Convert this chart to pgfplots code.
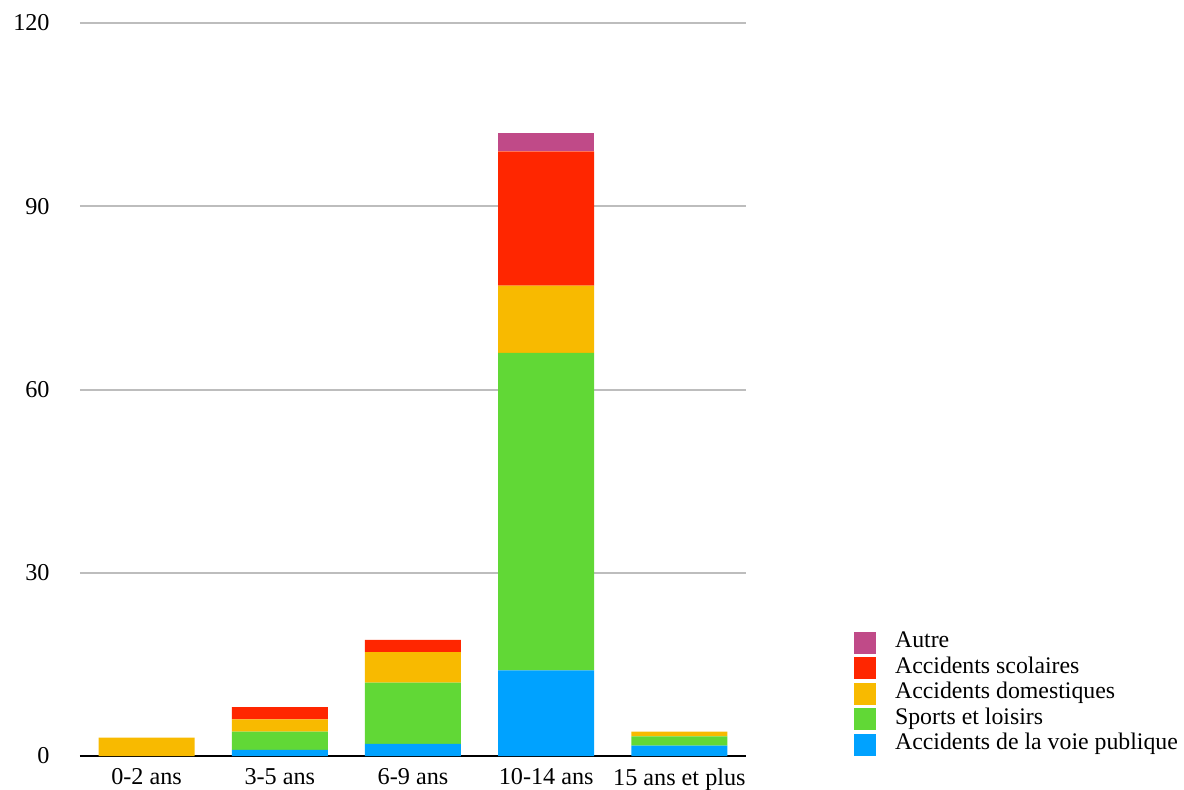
\documentclass[border=0pt]{standalone}
\usepackage{pgfplots}
\usepackage{pgfplotstable}
\pgfplotsset{compat=1.18}
\usepackage{fontspec}
\setmainfont{Liberation Serif}
\definecolor{cblue}{HTML}{00A2FF}
\definecolor{cgreen}{HTML}{61D836}
\definecolor{cyellow}{HTML}{F8BA00}
\definecolor{cred}{HTML}{FF2600}
\definecolor{cpink}{HTML}{C04A88}
\pgfplotstableread{
x voie sports dom scol autre
0 0 0 3 0 0
1 1 3 2 2 0
2 2 10 5 2 0
3 14 52 11 22 3
4 1.7 1.5 0.8 0 0
}\data
\begin{document}
\fontsize{11.9}{14.3}\selectfont
\begin{tikzpicture}
\useasboundingbox (0,0) rectangle (592pt,394.5pt);
\begin{axis}[
  at={(40pt,16.5pt)}, anchor=south west,
  scale only axis, width=333pt, height=366.5pt,
  ybar stacked, bar width=48pt,
  xmin=-0.5, xmax=4.5, ymin=0, ymax=120,
  xtick={0,1,2,3,4},
  xticklabels={0-2 ans,3-5 ans,6-9 ans,10-14 ans,15 ans et plus},
  ytick={0,30,60,90,120},
  major tick length=0pt,
  axis x line*=bottom, axis y line*=left,
  y axis line style={draw=none},
  x axis line style={draw=black,line width=1.25pt,-},
  ymajorgrids, grid style={draw=black!26,line width=1pt},
  tick label style={font=\fontsize{12.1}{14.5}\selectfont},
  /pgf/number format/assume math mode=true,
  yticklabel style={anchor=east,inner sep=0pt,xshift=-15pt},
  xticklabel style={anchor=north,inner sep=0pt,yshift=-6pt},
  reverse legend,
  legend style={draw=none, at={(1.1623,0.1719)}, anchor=north west,
    inner sep=0pt, outer sep=0pt, column sep=9.5pt, row sep=0pt,
    font=\fontsize{11.9}{14.3}\selectfont,
    nodes={inner sep=0pt, text height=9pt, text depth=3.75pt}},
  legend cell align=left,
  legend image code/.code={\fill[#1] (0pt,-5.5pt) rectangle (11pt,5.5pt);},
]
\addplot[fill=cblue,draw=none] table[x=x,y=voie]{\data};
\addplot[fill=cgreen,draw=none] table[x=x,y=sports]{\data};
\addplot[fill=cyellow,draw=none] table[x=x,y=dom]{\data};
\addplot[fill=cred,draw=none] table[x=x,y=scol]{\data};
\addplot[fill=cpink,draw=none] table[x=x,y=autre]{\data};
\legend{Accidents de la voie publique,Sports et loisirs,Accidents domestiques,Accidents scolaires,Autre}
\end{axis}
\end{tikzpicture}
\end{document}
